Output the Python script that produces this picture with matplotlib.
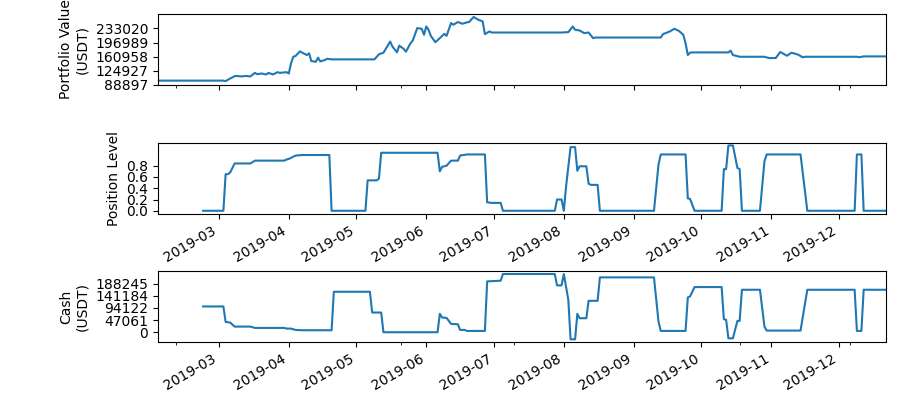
import matplotlib
matplotlib.use('Agg')
import matplotlib.pyplot as plt
import matplotlib.dates as mdates
import matplotlib.ticker as mticker
import pandas as pd

# Portfolio value (USDT)
value_dates = ['2019-02-02', '2019-03-03', '2019-03-04', '2019-03-06', '2019-03-08', '2019-03-09',
               '2019-03-11', '2019-03-13', '2019-03-15', '2019-03-17', '2019-03-18', '2019-03-20',
               '2019-03-22', '2019-03-23', '2019-03-25', '2019-03-27', '2019-03-28', '2019-03-31',
               '2019-04-01', '2019-04-02', '2019-04-03', '2019-04-04', '2019-04-06', '2019-04-07',
               '2019-04-09', '2019-04-10', '2019-04-11', '2019-04-13', '2019-04-14', '2019-04-15',
               '2019-04-17', '2019-04-18', '2019-04-20', '2019-05-09', '2019-05-11', '2019-05-13',
               '2019-05-16', '2019-05-17', '2019-05-19', '2019-05-20', '2019-05-22', '2019-05-23',
               '2019-05-25', '2019-05-26', '2019-05-28', '2019-05-30', '2019-05-31', '2019-06-01',
               '2019-06-02', '2019-06-03', '2019-06-05', '2019-06-07', '2019-06-09', '2019-06-10',
               '2019-06-12', '2019-06-13', '2019-06-15', '2019-06-17', '2019-06-19', '2019-06-20',
               '2019-06-22', '2019-06-24', '2019-06-26', '2019-06-27', '2019-06-29', '2019-06-30',
               '2019-07-31', '2019-08-03', '2019-08-05', '2019-08-06', '2019-08-08', '2019-08-10',
               '2019-08-12', '2019-08-14', '2019-08-15', '2019-09-13', '2019-09-14', '2019-09-17',
               '2019-09-19', '2019-09-21', '2019-09-23', '2019-09-24', '2019-09-25', '2019-09-26',
               '2019-09-27', '2019-10-13', '2019-10-14', '2019-10-15', '2019-10-18', '2019-10-29',
               '2019-10-31', '2019-11-03', '2019-11-05', '2019-11-08', '2019-11-10', '2019-11-12',
               '2019-11-13', '2019-11-15', '2019-11-16', '2019-12-09', '2019-12-10', '2019-12-12',
               '2019-12-22']
value_usdt = [100000, 100000, 98800, 105400, 111300, 111900,
              110700, 111900, 110700, 119800, 116400, 118200,
              115700, 119800, 115700, 121600, 119800, 121600,
              118200, 144000, 160900, 162800, 174800, 171200,
              165300, 169700, 149900, 148100, 158400, 149100,
              152500, 155800, 154200, 154200, 167100, 171200,
              199600, 186700, 172300, 189300, 180800, 173800,
              195400, 202100, 234000, 232200, 216800, 238100,
              229700, 214200, 198000, 208300, 219400, 214200,
              246900, 242500, 249500, 245100, 248500, 249500,
              262300, 255400, 251000, 218600, 225300, 222700,
              222700, 223700, 238100, 229700, 227900, 221200,
              222700, 208300, 209900, 209900, 218600, 225300,
              232200, 227100, 216800, 195400, 165300, 171200,
              172000, 172000, 176400, 165300, 160900, 160900,
              157600, 157600, 173000, 163500, 171200, 167900,
              166100, 159400, 160900, 160900, 159600, 161800,
              161800]

# Position level
pos_dates = ['2019-02-22', '2019-03-03', '2019-03-04', '2019-03-05', '2019-03-06', '2019-03-08',
             '2019-03-15', '2019-03-17', '2019-03-30', '2019-03-31', '2019-04-01', '2019-04-04',
             '2019-04-07', '2019-04-19', '2019-04-20', '2019-05-05', '2019-05-06', '2019-05-10',
             '2019-05-11', '2019-05-12', '2019-06-06', '2019-06-07', '2019-06-08', '2019-06-10',
             '2019-06-12', '2019-06-15', '2019-06-16', '2019-06-19', '2019-06-27', '2019-06-28',
             '2019-06-30', '2019-07-04', '2019-07-05', '2019-07-28', '2019-07-29', '2019-07-31',
             '2019-08-01', '2019-08-02', '2019-08-04', '2019-08-06', '2019-08-07', '2019-08-08',
             '2019-08-11', '2019-08-12', '2019-08-13', '2019-08-16', '2019-08-17', '2019-09-10',
             '2019-09-12', '2019-09-13', '2019-09-24', '2019-09-25', '2019-09-26', '2019-09-28',
             '2019-10-10', '2019-10-11', '2019-10-12', '2019-10-13', '2019-10-15', '2019-10-17',
             '2019-10-18', '2019-10-19', '2019-10-27', '2019-10-29', '2019-10-30', '2019-11-14',
             '2019-11-17', '2019-12-08', '2019-12-09', '2019-12-11', '2019-12-12', '2019-12-22']
pos_level = [0.0, 0.0, 0.65, 0.65, 0.68, 0.84,
             0.84, 0.89, 0.89, 0.91, 0.92, 0.98,
             0.99, 0.99, 0.0, 0.0, 0.54, 0.54,
             0.57, 1.03, 1.03, 0.70, 0.78, 0.80,
             0.89, 0.89, 0.98, 1.0, 1.0, 0.15,
             0.14, 0.14, 0.0, 0.0, 0.2, 0.2,
             0.0, 0.43, 1.13, 1.13, 0.71, 0.79,
             0.79, 0.48, 0.46, 0.46, 0.0, 0.0,
             0.82, 1.0, 1.0, 0.22, 0.21, 0.0,
             0.0, 0.74, 0.74, 1.16, 1.16, 0.76,
             0.74, 0.0, 0.0, 0.88, 1.0, 1.0,
             0.0, 0.0, 1.0, 1.0, 0.0, 0.0]

# Cash (USDT)
cash_dates = ['2019-02-22', '2019-03-03', '2019-03-04', '2019-03-06', '2019-03-08', '2019-03-15',
              '2019-03-17', '2019-03-30', '2019-03-31', '2019-04-02', '2019-04-04', '2019-04-07',
              '2019-04-20', '2019-04-21', '2019-05-07', '2019-05-08', '2019-05-12', '2019-05-13',
              '2019-06-06', '2019-06-07', '2019-06-08', '2019-06-10', '2019-06-12', '2019-06-15',
              '2019-06-16', '2019-06-18', '2019-06-19', '2019-06-27', '2019-06-28', '2019-07-04',
              '2019-07-05', '2019-07-28', '2019-07-29', '2019-07-31', '2019-08-01', '2019-08-03',
              '2019-08-04', '2019-08-06', '2019-08-07', '2019-08-08', '2019-08-11', '2019-08-12',
              '2019-08-16', '2019-08-17', '2019-09-10', '2019-09-12', '2019-09-13', '2019-09-24',
              '2019-09-25', '2019-09-26', '2019-09-28', '2019-10-10', '2019-10-11', '2019-10-12',
              '2019-10-13', '2019-10-15', '2019-10-17', '2019-10-18', '2019-10-19', '2019-10-27',
              '2019-10-29', '2019-10-30', '2019-11-14', '2019-11-17', '2019-12-08', '2019-12-09',
              '2019-12-11', '2019-12-12', '2019-12-22']
cash_usdt = [100000, 100000, 40100, 37500, 21900, 21900,
             16800, 16800, 14100, 14100, 9000, 7700,
             7700, 157000, 157000, 76500, 76500, 0,
             0, 71300, 57000, 55700, 32300, 31000,
             9000, 9000, 5100, 5100, 197300, 199900,
             225800, 225800, 181700, 181700, 225800, 125800,
             -27400, -27400, 71300, 54400, 54400, 121900,
             121900, 212800, 212800, 41400, 5100, 5100,
             134900, 138800, 175200, 175200, 50500, 47900,
             -23500, -23500, 44000, 44000, 164800, 164800,
             21900, 6400, 6400, 164800, 164800, 5100,
             5100, 164800, 164800]

value_ticks = [88897, 124927, 160958, 196989, 233020]
pos_ticks = [0.0, 0.2, 0.4, 0.6, 0.8]
cash_ticks = [0, 47061, 94122, 141184, 188245]
minor_dates = ['2019-02-10', '2019-05-21', '2019-07-10', '2019-09-01', '2019-10-18', '2019-12-06']

fig = plt.figure(figsize=(9.08, 3.99), dpi=100)
ax1 = fig.add_axes([0.174, 0.787, 0.802, 0.178])
ax2 = fig.add_axes([0.174, 0.4637, 0.802, 0.178])
ax3 = fig.add_axes([0.174, 0.1429, 0.802, 0.178])

ax1.plot(pd.to_datetime(value_dates), value_usdt, color='#1f77b4', lw=1.5)
ax2.plot(pd.to_datetime(pos_dates), pos_level, color='#1f77b4', lw=1.5)
ax3.plot(pd.to_datetime(cash_dates), cash_usdt, color='#1f77b4', lw=1.5)

xmin = pd.Timestamp('2019-02-02')
xmax = pd.Timestamp('2019-12-22')
minor_pos = mdates.date2num(pd.to_datetime(minor_dates))

for ax in (ax1, ax2, ax3):
    ax.set_xlim(xmin, xmax)
    ax.xaxis.set_major_locator(mdates.MonthLocator())
    ax.xaxis.set_major_formatter(mdates.DateFormatter('%Y-%m'))
    for lab in ax.get_xticklabels():
        lab.set_rotation(30)
        lab.set_ha('right')

ax1.xaxis.set_minor_locator(mticker.FixedLocator(minor_pos))
ax3.xaxis.set_minor_locator(mticker.FixedLocator(minor_pos))
ax1.tick_params(axis='x', labelbottom=False)

ax1.set_ylim(88897, 270000)
ax1.set_yticks(value_ticks)
ax1.set_yticklabels([str(v) for v in value_ticks])
ax1.set_ylabel('Portfolio Value\n(USDT)')

ax2.set_ylim(-0.057, 1.204)
ax2.set_yticks(pos_ticks)
ax2.set_yticklabels(['%.1f' % v for v in pos_ticks])
ax2.set_ylabel('Position Level')

ax3.set_ylim(-37800, 237700)
ax3.set_yticks(cash_ticks)
ax3.set_yticklabels([str(v) for v in cash_ticks])
ax3.set_ylabel('Cash\n(USDT)')

fig.savefig('out.png', dpi=100)
